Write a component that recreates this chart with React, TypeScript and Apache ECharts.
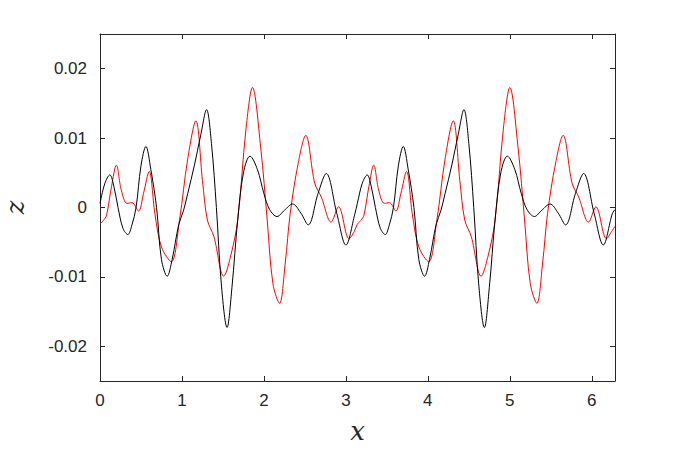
import React, { useEffect, useRef } from "react";
import * as echarts from "echarts";

// Black curve (x, z)
const blackX = [
  0.0, 0.06, 0.12, 0.17, 0.22, 0.28, 0.34, 0.39, 0.44, 0.5, 0.56, 0.62, 0.69, 0.75, 0.82, 0.88, 0.96, 1.02, 1.07,
  1.15, 1.23, 1.3, 1.36, 1.42, 1.48, 1.55, 1.61, 1.68, 1.75, 1.83, 1.92, 2.0, 2.07, 2.16, 2.25, 2.35, 2.45, 2.54,
  2.66, 2.76, 2.89, 3.0, 3.11,
  3.14, 3.2, 3.26, 3.31, 3.36, 3.42, 3.48, 3.53, 3.58, 3.64, 3.7, 3.76, 3.83, 3.89, 3.96, 4.02, 4.1, 4.16, 4.21,
  4.29, 4.37, 4.44, 4.5, 4.56, 4.62, 4.69, 4.75, 4.82, 4.89, 4.97, 5.06, 5.14, 5.21, 5.3, 5.39, 5.49, 5.59, 5.68,
  5.8, 5.9, 6.03, 6.14, 6.25, 6.283,
];
const blackZ = [
  0.0006, 0.0035, 0.0047, 0.003, 0.0, -0.003, -0.0039, -0.0025, 0.0, 0.006, 0.0088, 0.0055, 0.0, -0.0075, -0.0099,
  -0.0075, -0.0025, -0.0004, 0.002, 0.006, 0.0105, 0.0141, 0.0092, 0.0, -0.011, -0.0173, -0.0115, -0.0018, 0.005,
  0.0074, 0.0055, 0.002, -0.0003, -0.0013, -0.0004, 0.0005, -0.0008, -0.0025, 0.002, 0.0049, -0.0009, -0.0054,
  -0.0009,
  0.0006, 0.0035, 0.0047, 0.003, 0.0, -0.003, -0.0039, -0.0025, 0.0, 0.006, 0.0088, 0.0055, 0.0, -0.0075, -0.0099,
  -0.0075, -0.0025, -0.0004, 0.002, 0.006, 0.0105, 0.0141, 0.0092, 0.0, -0.011, -0.0173, -0.0115, -0.0018, 0.005,
  0.0074, 0.0055, 0.002, -0.0003, -0.0013, -0.0004, 0.0005, -0.0008, -0.0025, 0.002, 0.0049, -0.0009, -0.0054,
  -0.0009, -0.0003,
];

// Red curve (x, z)
const redX = [
  0.0, 0.04, 0.08, 0.14, 0.2, 0.26, 0.33, 0.39, 0.47, 0.53, 0.6, 0.67, 0.75, 0.87, 0.97, 1.07, 1.17, 1.25, 1.31,
  1.39, 1.51, 1.59, 1.68, 1.78, 1.86, 1.96, 2.04, 2.11, 2.19, 2.26, 2.32, 2.42, 2.51, 2.62, 2.7, 2.82, 2.91, 3.04,
  3.1,
  3.14, 3.18, 3.22, 3.28, 3.34, 3.4, 3.47, 3.53, 3.61, 3.67, 3.74, 3.81, 3.89, 4.01, 4.11, 4.21, 4.31, 4.39, 4.45,
  4.53, 4.65, 4.73, 4.82, 4.92, 5.0, 5.1, 5.18, 5.25, 5.33, 5.4, 5.46, 5.56, 5.65, 5.76, 5.84, 5.96, 6.05, 6.18,
  6.24, 6.283,
];
const redZ = [
  -0.0024, -0.0019, -0.0011, 0.003, 0.0061, 0.0025, 0.0006, 0.0007, -0.0005, 0.002, 0.0052, -0.0009, -0.0057,
  -0.0078, -0.0018, 0.007, 0.0125, 0.0039, -0.0018, -0.0042, -0.0099, -0.0072, -0.0018, 0.0112, 0.0173, 0.0087,
  -0.0018, -0.011, -0.0138, -0.008, -0.0009, 0.0065, 0.0104, 0.0035, 0.0015, -0.0021, 0.0001, -0.0045, -0.0035,
  -0.0024, -0.0019, -0.0011, 0.003, 0.0061, 0.0025, 0.0006, 0.0007, -0.0005, 0.002, 0.0052, -0.0009, -0.0057,
  -0.0078, -0.0018, 0.007, 0.0125, 0.0039, -0.0018, -0.0042, -0.0099, -0.0072, -0.0018, 0.0112, 0.0173, 0.0087,
  -0.0018, -0.011, -0.0138, -0.008, -0.0009, 0.0065, 0.0104, 0.0035, 0.0015, -0.0021, 0.0001, -0.0045, -0.0035,
  -0.0027,
];

const xTicks = [0, 1, 2, 3, 4, 5, 6];
const yTicks = [-0.02, -0.01, 0, 0.01, 0.02];
const xMin = 0;
const xMax = 6.283185307;
const yMin = -0.025;
const yMax = 0.025;

const AXIS_COLOR = "#262626";
const LABEL_FONT = "Helvetica, 'Liberation Sans', Arial, sans-serif";
const NAME_FONT = "'DejaVu Serif', 'Liberation Serif', serif";

export default function App() {
  const ref = useRef<HTMLDivElement>(null);

  useEffect(() => {
    if (!ref.current) return;
    const chart = echarts.init(ref.current, undefined, { renderer: "svg" });

    const axisLine = { show: true, onZero: false, lineStyle: { color: AXIS_COLOR, width: 1 } };

    const baseX = {
      type: "value" as const,
      min: xMin,
      max: xMax,
      splitLine: { show: false },
      axisLine,
    };
    const baseY = {
      type: "value" as const,
      min: yMin,
      max: yMax,
      splitLine: { show: false },
      axisLine,
    };
    const tick = (vals: number[]) => ({
      show: true,
      inside: true,
      length: 5,
      customValues: vals,
      lineStyle: { color: AXIS_COLOR, width: 1 },
    });

    chart.setOption({
      animation: false,
      backgroundColor: "#ffffff",
      grid: { left: 100, right: 65, top: 34, bottom: 73, containLabel: false, outerBoundsMode: "none" },
      xAxis: [
        {
          ...baseX,
          position: "bottom",
          name: "x",
          nameLocation: "middle",
          nameGap: 37,
          nameTextStyle: { fontFamily: NAME_FONT, fontStyle: "italic", fontSize: 26, color: AXIS_COLOR },
          axisTick: tick(xTicks),
          axisLabel: {
            show: true,
            customValues: xTicks,
            margin: 11,
            fontSize: 17,
            fontFamily: LABEL_FONT,
            color: AXIS_COLOR,
            formatter: (v: number) => String(v),
          },
        },
        {
          ...baseX,
          position: "top",
          axisTick: tick(xTicks),
          axisLabel: { show: false },
        },
      ],
      yAxis: [
        {
          ...baseY,
          position: "left",
          name: "z",
          nameLocation: "middle",
          nameRotate: 90,
          nameGap: 72,
          nameTextStyle: { fontFamily: NAME_FONT, fontStyle: "italic", fontSize: 26, color: AXIS_COLOR },
          axisTick: tick(yTicks),
          axisLabel: {
            show: true,
            customValues: yTicks,
            margin: 13,
            fontSize: 17,
            fontFamily: LABEL_FONT,
            color: AXIS_COLOR,
            formatter: (v: number) => (v === 0 ? "0" : String(Math.round(v * 100) / 100)),
          },
        },
        {
          ...baseY,
          position: "right",
          axisTick: tick(yTicks),
          axisLabel: { show: false },
        },
      ],
      series: [
        {
          type: "line",
          xAxisIndex: 0,
          yAxisIndex: 0,
          data: blackX.map((x, i) => [x, blackZ[i]]),
          showSymbol: false,
          smooth: 0.35,
          lineStyle: { color: "#000000", width: 1 },
          itemStyle: { color: "#000000" },
          z: 3,
        },
        {
          type: "line",
          xAxisIndex: 0,
          yAxisIndex: 0,
          data: redX.map((x, i) => [x, redZ[i]]),
          showSymbol: false,
          smooth: 0.35,
          lineStyle: { color: "#ff0000", width: 1 },
          itemStyle: { color: "#ff0000" },
          z: 2,
        },
      ],
    });

    return () => chart.dispose();
  }, []);

  return (
    <div
      ref={ref}
      style={{ position: "absolute", left: 0, top: 0, width: 680, height: 454 }}
    />
  );
}
